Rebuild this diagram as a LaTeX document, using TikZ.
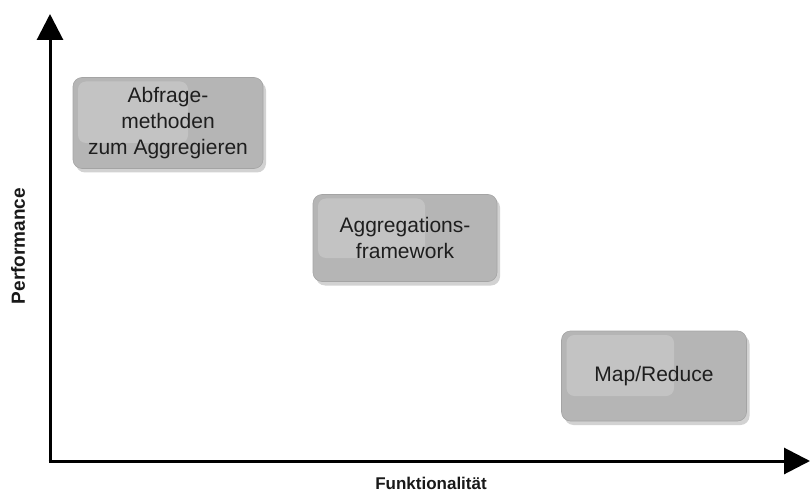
\documentclass[tikz,border=0pt]{standalone}
\usepackage{fontspec}
\setmainfont{Liberation Sans}
\usetikzlibrary{arrows.meta,shadows}
\definecolor{boxtext}{HTML}{1E1E1E}
\definecolor{boxedge}{HTML}{A4A4A4}
\begin{document}
\begin{tikzpicture}[x=1pt,y=-1pt,
  method/.style={draw=boxedge, line width=0.6pt, rounded corners=9pt,
    fill=black!29,
    drop shadow={shadow xshift=3pt, shadow yshift=-4pt, opacity=0.25, fill=black!70},
    align=center, text=boxtext, font=\fontsize{21}{26}\selectfont,
    inner sep=0pt,
    path picture={
      \fill[rounded corners=8pt, white, opacity=0.2]
        ([xshift=5pt,yshift=-4pt]path picture bounding box.north west) rectangle
        ([xshift=20pt,yshift=-20pt]path picture bounding box.center);
    }},
  axis/.style={line width=3pt, -{Triangle[width=26pt,length=26pt]}},
  axislabel/.style={font=\bfseries\fontsize{17}{20}\selectfont, text=black!90}]
\useasboundingbox (0,0) rectangle (810,494);
% axes
\coordinate (origin) at (50,461);
\coordinate (ytip) at (50,14);
\coordinate (xtip) at (810,461);
\draw[axis] ([yshift=-1.5pt]origin) -- (ytip);
\draw[axis] ([xshift=-1.5pt]origin) -- (xtip);
\node[axislabel, rotate=90, font=\bfseries\fontsize{19}{22}\selectfont] (perf) at (18,246) {Performance};
\node[axislabel] (funk) at (431,483) {Funktionalität};
% methods
\node[method, minimum width=190pt, minimum height=91pt] (abfrage) at (168,123)
  {Abfrage-\\methoden\\zum Aggregieren};
\node[method, minimum width=184pt, minimum height=87pt] (aggr) at (405,238)
  {Aggregations-\\framework};
\node[method, minimum width=185pt, minimum height=90pt] (mapred) at (654,376)
  {Map/Reduce};
\end{tikzpicture}
\end{document}
